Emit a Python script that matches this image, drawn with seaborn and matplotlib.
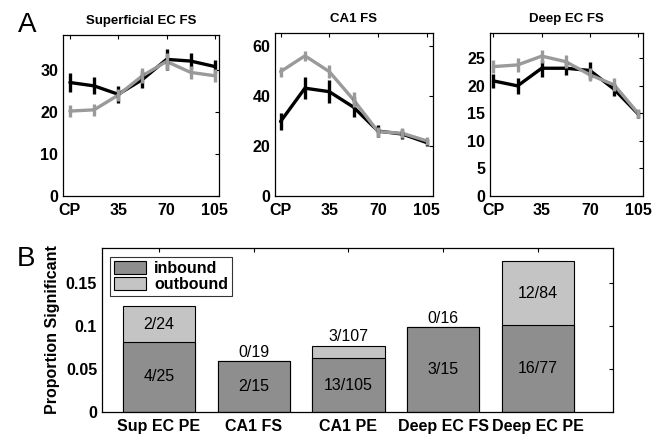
import numpy as np
import pandas as pd
import matplotlib
matplotlib.use("Agg")
import matplotlib.pyplot as plt
import seaborn as sns
from matplotlib.patches import Patch

sns.set_theme(style="white")
plt.rcParams['font.family'] = ['Liberation Sans', 'DejaVu Sans']
plt.rcParams['text.color'] = 'black'
plt.rcParams['axes.labelcolor'] = 'black'
plt.rcParams['xtick.color'] = 'black'
plt.rcParams['ytick.color'] = 'black'

# ---------------- data ----------------
speeds = [0, 17.5, 35, 52.5, 70, 87.5, 105]
speed_ticks = [0, 35, 70, 105]
speed_ticklabels = ["CP", "35", "70", "105"]

titles = ["Superficial EC FS", "CA1 FS", "Deep EC FS"]

sup_in = [27.0, 26.2, 24.2, 27.7, 32.5, 32.1, 30.8]
sup_in_err = [2.2, 2.0, 2.0, 2.0, 2.5, 1.8, 1.5]
sup_out = [20.2, 20.5, 24.0, 28.6, 32.0, 29.4, 28.6]
sup_out_err = [1.5, 1.5, 1.5, 1.8, 2.0, 1.5, 1.5]

ca1_in = [29.7, 43.0, 41.6, 35.4, 25.9, 24.7, 21.3]
ca1_in_err = [3.5, 4.5, 4.5, 4.0, 2.5, 2.0, 1.5]
ca1_out = [49.6, 55.9, 49.6, 38.3, 25.7, 25.0, 22.0]
ca1_out_err = [2.0, 2.0, 2.5, 3.0, 2.0, 2.0, 1.5]

deep_in = [20.9, 20.0, 23.2, 23.2, 22.8, 19.4, 14.9]
deep_in_err = [1.2, 1.5, 1.5, 1.2, 1.5, 1.2, 0.8]
deep_out = [23.5, 23.8, 25.4, 24.4, 22.0, 20.2, 15.0]
deep_out_err = [1.2, 1.2, 1.2, 1.2, 1.2, 1.2, 0.8]

a_yticks = [[0, 10, 20, 30], [0, 20, 40, 60], [0, 5, 10, 15, 20, 25]]
a_ylims = [38.3, 65, 29.6]
a_xlims = [(-5, 108), (-4, 109.5), (-2.5, 108.5)]

groups = ["Sup EC PE", "CA1 FS", "CA1 PE", "Deep EC FS", "Deep EC PE"]
prop_in = [0.0812, 0.0588, 0.0620, 0.0980, 0.1008]
prop_total = [0.1224, 0.0588, 0.0765, 0.0980, 0.1745]
label_in = ["4/25", "2/15", "13/105", "3/15", "16/77"]
label_out = ["2/24", "0/19", "3/107", "0/16", "12/84"]

c_in_line = "black"
c_out_line = "#9a9a9a"
c_in_bar = "#8e8e8e"
c_out_bar = "#c4c4c4"

# ---------------- figure ----------------
W, H = 661, 437
fig = plt.figure(figsize=(W / 100, H / 100), dpi=100)


def box(l, t, r, b):
    return [l / W, 1 - b / H, (r - l) / W, (b - t) / H]


a_boxes = [box(63, 35, 219, 196), box(275, 33, 433, 196), box(490, 33, 643, 196)]
series = [(sup_in, sup_in_err, sup_out, sup_out_err),
          (ca1_in, ca1_in_err, ca1_out, ca1_out_err),
          (deep_in, deep_in_err, deep_out, deep_out_err)]

TICK_FS = 11.5

for i, (rect, (yin, ein, yout, eout)) in enumerate(zip(a_boxes, series)):
    ax = fig.add_axes(rect)
    df = pd.DataFrame({
        "speed": speeds * 2,
        "rate": yin + yout,
        "dir": ["inbound"] * 7 + ["outbound"] * 7,
    })
    sns.lineplot(data=df, x="speed", y="rate", hue="dir",
                 palette={"inbound": c_in_line, "outbound": c_out_line},
                 linewidth=2.4, legend=False, ax=ax)
    ax.errorbar(speeds, yin, yerr=ein, fmt="none", ecolor=c_in_line,
                elinewidth=2.4, capsize=0)
    ax.errorbar(speeds, yout, yerr=eout, fmt="none", ecolor=c_out_line,
                elinewidth=2.4, capsize=0)
    ax.set_xlim(*a_xlims[i])
    ax.set_ylim(0, a_ylims[i])
    ax.set_xticks(speed_ticks)
    ax.set_xticklabels(speed_ticklabels)
    ax.set_yticks(a_yticks[i])
    ax.set_xlabel("")
    ax.set_ylabel("")
    ax.set_title(titles[i], fontsize=9.5, fontweight="bold", pad=8, color="black")
    ax.tick_params(direction="in", length=3, width=0.8, top=True, right=True,
                   labelsize=TICK_FS, colors="black")
    ax.tick_params(axis="x", pad=5)
    ax.tick_params(axis="y", pad=3.5)
    for lab in ax.get_xticklabels() + ax.get_yticklabels():
        lab.set_fontweight("bold")
    for s in ax.spines.values():
        s.set_color("black")
        s.set_linewidth(0.9)

# ---------------- panel B ----------------
axb = fig.add_axes(box(102, 248, 613, 412))
dfb = pd.DataFrame({"group": groups, "total": prop_total, "inb": prop_in})
sns.barplot(data=dfb, x="group", y="total", color=c_out_bar, saturation=1,
            width=0.76, edgecolor="black", linewidth=0.8, ax=axb)
sns.barplot(data=dfb, x="group", y="inb", color=c_in_bar, saturation=1,
            width=0.76, edgecolor="black", linewidth=0.8, ax=axb)
axb.set_xlim(-0.6, 4.79)
axb.set_ylim(0, 0.19)
axb.set_yticks([0, 0.05, 0.1, 0.15])
axb.set_yticklabels(["0", "0.05", "0.1", "0.15"])
axb.set_xlabel("")
axb.set_ylabel("Proportion Significant", fontsize=11.5, fontweight="bold", labelpad=4)
axb.tick_params(direction="in", length=3, width=0.8, top=True, right=True,
                bottom=False, labelsize=TICK_FS, colors="black")
axb.tick_params(axis="x", pad=5)
axb.tick_params(axis="y", pad=3.5)
for lab in axb.get_xticklabels() + axb.get_yticklabels():
    lab.set_fontweight("bold")
for s in axb.spines.values():
    s.set_color("black")
    s.set_linewidth(0.9)

for j in range(len(groups)):
    axb.text(j, prop_in[j] / 2, label_in[j], ha="center", va="center", fontsize=11.5)
    seg = prop_total[j] - prop_in[j]
    if seg > 0.03:
        axb.text(j, prop_in[j] + seg / 2, label_out[j], ha="center", va="center", fontsize=11.5)
    else:
        axb.text(j, prop_total[j] + 0.002, label_out[j], ha="center", va="bottom", fontsize=11.5)

handles = [Patch(facecolor=c_in_bar, edgecolor="black", linewidth=0.8, label="inbound"),
           Patch(facecolor=c_out_bar, edgecolor="black", linewidth=0.8, label="outbound")]
leg = axb.legend(handles=handles, loc="upper left", bbox_to_anchor=(0.016, 0.945),
                 borderaxespad=0, frameon=True, fancybox=False, edgecolor="black",
                 prop={"weight": "bold", "size": 11.5}, handlelength=2.0,
                 handleheight=0.9, labelspacing=0.05, borderpad=0.25, handletextpad=0.5)
leg.get_frame().set_linewidth(0.8)

fig.text(27 / W, 1 - 25 / H, "A", fontsize=20, ha="center", va="center")
fig.text(26 / W, 1 - 259 / H, "B", fontsize=20, ha="center", va="center")

fig.savefig("out.png", dpi=100, facecolor="white")
